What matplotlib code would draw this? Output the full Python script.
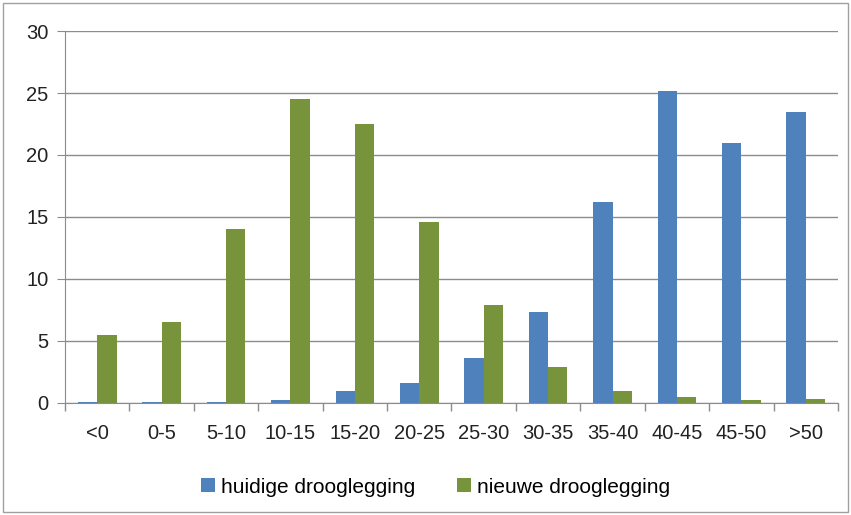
import matplotlib
matplotlib.use("Agg")
import matplotlib.pyplot as plt
import numpy as np
from matplotlib.patches import Rectangle

categories = ["<0", "0-5", "5-10", "10-15", "15-20", "20-25", "25-30",
              "30-35", "35-40", "40-45", "45-50", ">50"]
huidige = [0.1, 0.1, 0.1, 0.25, 0.95, 1.65, 3.6, 7.3, 16.2, 25.2, 21.0, 23.5]
nieuwe = [5.5, 6.5, 14.0, 24.5, 22.5, 14.6, 7.9, 2.9, 1.0, 0.45, 0.25, 0.35]

plt.rcParams["font.family"] = ["Liberation Sans", "DejaVu Sans"]

fig = plt.figure(figsize=(8.51, 5.15), dpi=100)
ax = fig.add_axes([0.0764, 0.2175, 0.9083, 0.7223])

x = np.arange(len(categories))
w = 0.3
ax.bar(x - w / 2, huidige, w, color="#4F81BD", label="huidige drooglegging")
ax.bar(x + w / 2, nieuwe, w, color="#77933C", label="nieuwe drooglegging")

ax.set_xlim(-0.5, len(categories) - 0.5)
ax.set_ylim(0, 30)
ax.set_yticks(range(0, 31, 5))
ax.yaxis.grid(True, color="#8c8c8c", linewidth=1)
ax.set_axisbelow(True)

ax.set_xticks(x)
ax.set_xticklabels(categories)
ax.set_xticks(np.arange(-0.5, len(categories)), minor=True)
ax.tick_params(axis="x", which="major", length=0, pad=15, labelsize=14.5, colors="#222222")
ax.tick_params(axis="x", which="minor", length=6, color="#8c8c8c", width=1)
ax.tick_params(axis="y", length=6, color="#8c8c8c", pad=6, labelsize=14.5, labelcolor="#222222")

for side in ["top", "right"]:
    ax.spines[side].set_visible(False)
for side in ["left", "bottom"]:
    ax.spines[side].set_color("#8c8c8c")

fig.legend(loc="center", bbox_to_anchor=(0.512, 0.054), ncol=2, frameon=False,
           fontsize=15, handlelength=0.65, handleheight=0.65, columnspacing=2.0,
           handletextpad=0.3)

fig.patches.append(Rectangle((0.004, 0.006), 0.992, 0.988, transform=fig.transFigure,
                             fill=False, edgecolor="#a0a0a0", linewidth=1))

fig.savefig("out.png", dpi=100)
